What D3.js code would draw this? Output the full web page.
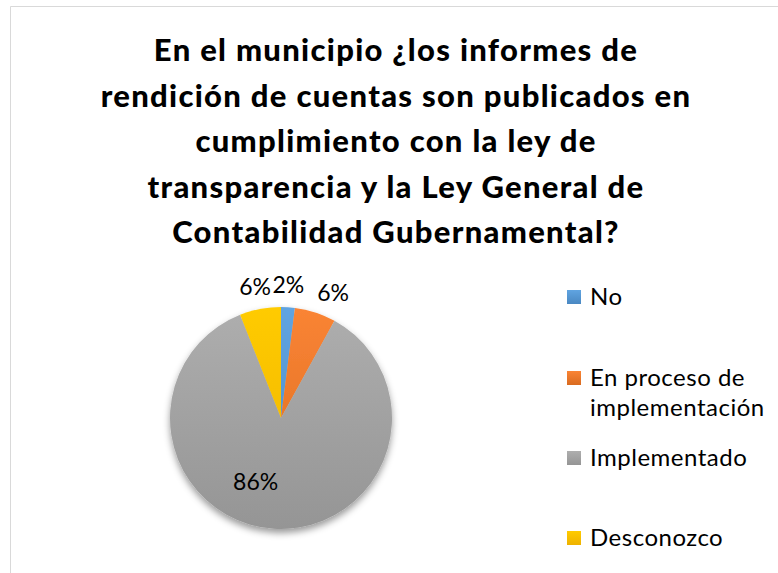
<!DOCTYPE html>
<html>
<head>
<meta charset="utf-8">
<script src="https://cdn.jsdelivr.net/npm/d3@7"></script>
<style>
  body { margin: 0; background: #fff; }
  svg text { font-family: Lato, "Open Sans", sans-serif; }
</style>
</head>
<body>
<div id="chart"></div>
<script>
const titleLines = [
    "En el municipio ¿los informes de",
    "rendición de cuentas son publicados en",
    "cumplimiento con la ley de",
    "transparencia y la Ley General de",
    "Contabilidad Gubernamental?"
];
const categories = ["No", "En proceso de implementación", "Implementado", "Desconozco"];
const legendLines = [["No"], ["En proceso de", "implementación"], ["Implementado"], ["Desconozco"]];
const values = [2, 6, 86, 6];
const labels = ["2%", "6%", "86%", "6%"];
const colors = ["#5b9bd5", "#ed7d31", "#a5a5a5", "#ffc000"];
const darkColors = ["#4a88c2", "#d96b20", "#959595", "#eeb200"];

const width = 778, height = 573;
const cx = 281, cy = 418, radius = 111;

var svg = d3.select("#chart").append("svg")
    .attr("width", width)
    .attr("height", height);

const defs = svg.append("defs");

// soft shadow under the pie
const shadow = defs.append("filter")
    .attr("id", "shadow")
    .attr("x", "-20%").attr("y", "-20%")
    .attr("width", "140%").attr("height", "140%");
shadow.append("feDropShadow")
    .attr("dx", 0).attr("dy", 4)
    .attr("stdDeviation", 3.5)
    .attr("flood-color", "#000")
    .attr("flood-opacity", 0.4);

// vertical gradients, lighter on top
colors.forEach((c, i) => {
    const g = defs.append("linearGradient")
        .attr("id", "grad" + i)
        .attr("gradientUnits", "userSpaceOnUse")
        .attr("x1", 0).attr("y1", -radius)
        .attr("x2", 0).attr("y2", radius);
    g.append("stop").attr("offset", "0%").attr("stop-color", d3.color(c).brighter(0.15));
    g.append("stop").attr("offset", "100%").attr("stop-color", darkColors[i]);

    const lg = defs.append("linearGradient")
        .attr("id", "leg" + i)
        .attr("x1", 0).attr("y1", 0)
        .attr("x2", 0).attr("y2", 1);
    lg.append("stop").attr("offset", "0%").attr("stop-color", d3.color(c).brighter(0.15));
    lg.append("stop").attr("offset", "100%").attr("stop-color", darkColors[i]);
});

// chart frame (top and left edges visible)
svg.append("path")
    .attr("d", "M10.5," + height + "V6.5H" + width)
    .attr("fill", "none")
    .attr("stroke", "#d9d9d9")
    .attr("stroke-width", 1);

// title
svg.append("g")
    .selectAll("text")
    .data(titleLines)
    .enter()
    .append("text")
        .attr("x", 396)
        .attr("y", (d, i) => 61 + i * 45.5)
        .attr("text-anchor", "middle")
        .attr("font-size", 31)
        .attr("font-weight", 900)
        .attr("letter-spacing", 1.3)
        .attr("fill", "#000")
        .text(d => d);

const pie = d3.pie().sort(null).value(d => d);
const arcs = pie(values);
const arc = d3.arc().innerRadius(0).outerRadius(radius);

const pieG = svg.append("g")
    .attr("transform", "translate(" + cx + "," + cy + ")");

pieG.append("g")
    .attr("filter", "url(#shadow)")
    .selectAll("path")
    .data(arcs)
    .enter()
    .append("path")
        .attr("d", arc)
        .attr("fill", (d, i) => "url(#grad" + i + ")");

// data labels
const outerArc = d3.arc().innerRadius(radius + 22).outerRadius(radius + 22);
const innerArc = d3.arc().innerRadius(radius * 0.62).outerRadius(radius * 0.62);
const labelOffsets = [[-1, 0], [11, 1], [-21, -5], [-1, 0]];
pieG.append("g")
    .selectAll("text")
    .data(arcs)
    .enter()
    .append("text")
        .attr("transform", (d, i) => {
            const p = d.data > 50 ? innerArc.centroid(d) : outerArc.centroid(d);
            return "translate(" + (p[0] + labelOffsets[i][0]) + "," + (p[1] + labelOffsets[i][1]) + ")";
        })
        .attr("text-anchor", "middle")
        .attr("dy", "0.35em")
        .attr("font-size", 23)
        .attr("fill", "#000")
        .text((d, i) => labels[i]);

// legend
const legendY = [297, 378, 458, 538];
const legend = svg.append("g")
    .selectAll("g")
    .data(categories)
    .enter()
    .append("g")
        .attr("transform", (d, i) => "translate(567," + legendY[i] + ")");

legend.append("rect")
    .attr("x", 0).attr("y", -7)
    .attr("width", 14).attr("height", 14)
    .attr("fill", (d, i) => "url(#leg" + i + ")");

legend.append("text")
    .attr("x", 23)
    .attr("font-size", 24)
    .attr("letter-spacing", 0.5)
    .attr("fill", "#000")
    .selectAll("tspan")
    .data((d, i) => legendLines[i])
    .enter()
    .append("tspan")
        .attr("x", 23)
        .attr("dy", (d, j) => j === 0 ? "0.35em" : "30")
        .text(d => d);
</script>
</body>
</html>
